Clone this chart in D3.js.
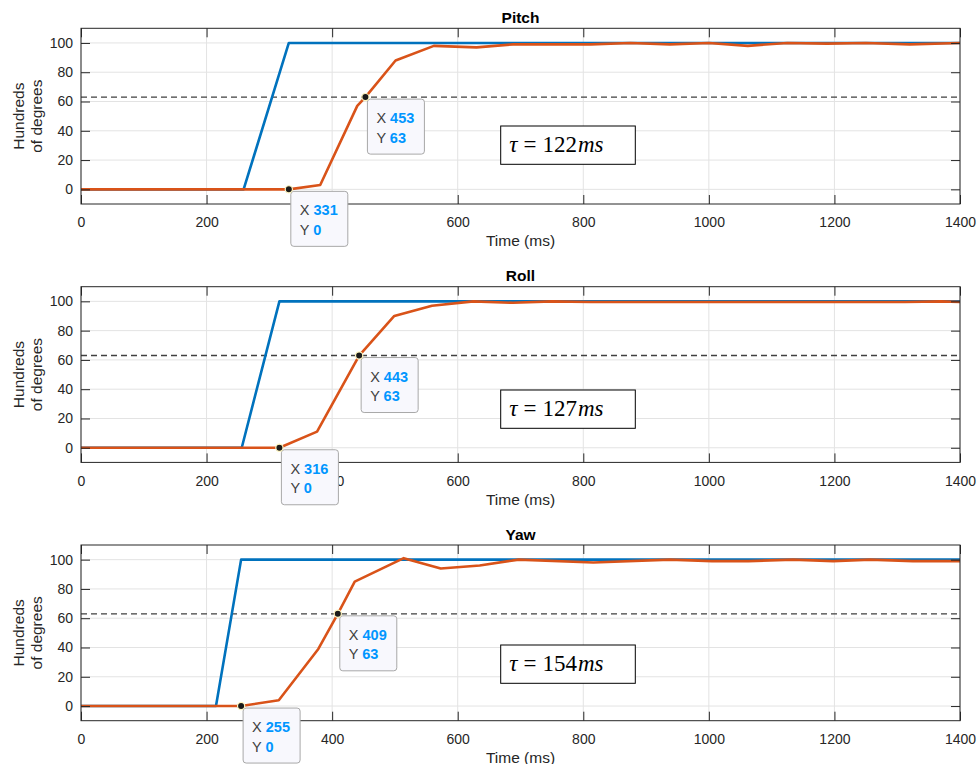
<!DOCTYPE html>
<html>
<head>
<meta charset="utf-8">
<script src="https://cdn.jsdelivr.net/npm/d3@7"></script>
<style>
  body { margin: 0; background: #fff; }
  text { font-family: "Liberation Sans", Arial, sans-serif; }
</style>
</head>
<body>
<div id="chart"></div>
<script>
// chart values
const panelTitles = ["Pitch", "Roll", "Yaw"];
const timeTicks = [0, 200, 400, 600, 800, 1000, 1200, 1400];
const valueTicks = [0, 20, 40, 60, 80, 100];
const thresholdValue = 63;
const tauValues = [122, 127, 154];

const pitchReference = [[0, 0], [259, 0], [331, 100], [1400, 100]];
const pitchResponse = [[0, 0], [331, 0], [381, 3], [440, 57], [453, 63], [501, 88], [562, 98], [630, 97],
  [688, 99], [750, 99], [812, 99], [875, 100], [938, 99], [1000, 100], [1062, 98], [1125, 100],
  [1188, 99.5], [1250, 100], [1320, 99], [1400, 100]];

const rollReference = [[0, 0], [256, 0], [316, 100], [1400, 100]];
const rollResponse = [[0, 0], [316, 0], [376, 11], [443, 63], [499, 90], [559, 97], [625, 100],
  [688, 99], [750, 100], [812, 99.5], [875, 99.5], [1000, 99.5], [1125, 99.5], [1250, 99.5],
  [1312, 99.5], [1370, 100], [1400, 99.5]];

const yawReference = [[0, 0], [215, 0], [255, 100], [1400, 100]];
const yawResponse = [[0, 0], [255, 0], [315, 4], [378, 39], [409, 63], [436, 85], [514, 101],
  [573, 94], [635, 96], [697, 100], [816, 98], [938, 100], [1005, 99], [1063, 99], [1134, 100],
  [1198, 99], [1257, 100], [1325, 99], [1400, 99]];

const referenceSeries = [pitchReference, rollReference, yawReference];
const responseSeries = [pitchResponse, rollResponse, yawResponse];
const datatipPoints = [
  [[331, 0], [453, 63]],
  [[316, 0], [443, 63]],
  [[255, 0], [409, 63]]
];

// layout
const FIG_WIDTH = 977, FIG_HEIGHT = 764;
const AXES_LEFT = 81, AXES_RIGHT = 960;
const AXES_TOPS = [28.3, 286.7, 545];
const AXES_HEIGHT = 175.7;
const TAU_BOX_TOPS = [97.7, 103.3, 100];
const TAU_BOX_LEFT = 419.7, TAU_BOX_WIDTH = 134.6, TAU_BOX_HEIGHT = 38.3;

const REFERENCE_COLOR = "#0072BD";
const RESPONSE_COLOR = "#D95319";
const AXIS_COLOR = "#262626";
const GRID_COLOR = "#e3e3e3";
const TIP_VALUE_COLOR = "#0096ff";

let svg = null;
let x = null;
let width = AXES_RIGHT - AXES_LEFT;

renderFigure();

function renderFigure() {
  svg = d3.select("#chart")
    .append("svg")
    .attr("width", FIG_WIDTH)
    .attr("height", FIG_HEIGHT);

  x = d3.scaleLinear().domain([0, 1400]).range([0, width]);

  panelTitles.forEach(function(title, i) {
    appendPanel(i);
  });
}

/**
 * @method appendPanel
 * @description Draws one subplot: grid, threshold, lines, box, ticks, labels, datatips and tau box
 */
function appendPanel(i) {
  let y = d3.scaleLinear().domain([-10, 110]).range([AXES_HEIGHT, 0]);
  let g = svg.append("g")
    .attr("transform", `translate(${AXES_LEFT}, ${AXES_TOPS[i]})`);

  g.append("defs").append("clipPath")
    .attr("id", "clip" + i)
    .append("rect")
    .attr("width", width)
    .attr("height", AXES_HEIGHT);

  // grid
  g.append("g").selectAll("line")
    .data(timeTicks)
    .enter().append("line")
    .attr("x1", d => x(d)).attr("x2", d => x(d))
    .attr("y1", 0).attr("y2", AXES_HEIGHT)
    .attr("stroke", GRID_COLOR);
  g.append("g").selectAll("line")
    .data(valueTicks)
    .enter().append("line")
    .attr("x1", 0).attr("x2", width)
    .attr("y1", d => y(d)).attr("y2", d => y(d))
    .attr("stroke", GRID_COLOR);

  // 63% threshold
  g.append("line")
    .attr("x1", 0).attr("x2", width)
    .attr("y1", y(thresholdValue)).attr("y2", y(thresholdValue))
    .attr("stroke", "#404040")
    .attr("stroke-width", 1.3)
    .attr("stroke-dasharray", "6,4");

  let line = d3.line()
    .x(d => x(d[0]))
    .y(d => y(d[1]));

  let plot = g.append("g").attr("clip-path", `url(#clip${i})`);
  plot.append("path")
    .datum(referenceSeries[i])
    .attr("fill", "none")
    .attr("stroke", REFERENCE_COLOR)
    .attr("stroke-width", 2.6)
    .attr("stroke-linejoin", "round")
    .attr("d", line);
  plot.append("path")
    .datum(responseSeries[i])
    .attr("fill", "none")
    .attr("stroke", RESPONSE_COLOR)
    .attr("stroke-width", 2.6)
    .attr("stroke-linejoin", "round")
    .attr("d", line);

  appendAxes(g, y);
  appendLabels(g, i);
  appendDatatips(g, y, i);
  appendTauBox(g, i);
}

/**
 * @method appendAxes
 * @description Box around the axes with inward ticks on all four sides
 */
function appendAxes(g, y) {
  let bottom = g.append("g")
    .attr("transform", `translate(0, ${AXES_HEIGHT})`)
    .call(d3.axisBottom(x).tickValues(timeTicks).tickFormat(d3.format("d"))
      .tickSizeInner(-9).tickSizeOuter(0).tickPadding(13.5));
  let left = g.append("g")
    .call(d3.axisLeft(y).tickValues(valueTicks).tickFormat(d3.format("d"))
      .tickSizeInner(-9).tickSizeOuter(0).tickPadding(8));
  g.append("g")
    .call(d3.axisTop(x).tickValues(timeTicks).tickSizeInner(-9).tickSizeOuter(0).tickFormat(""));
  g.append("g")
    .attr("transform", `translate(${width}, 0)`)
    .call(d3.axisRight(y).tickValues(valueTicks).tickSizeInner(-9).tickSizeOuter(0).tickFormat(""));

  g.selectAll(".domain").remove();
  g.selectAll(".tick line").attr("stroke", AXIS_COLOR);
  [bottom, left].forEach(function(a) {
    a.attr("font-size", null).attr("font-family", null);
    a.selectAll("text")
      .attr("fill", AXIS_COLOR)
      .style("font-size", "14px")
      .style("font-family", "'Liberation Sans', Arial, sans-serif");
  });

  g.append("rect")
    .attr("width", width)
    .attr("height", AXES_HEIGHT)
    .attr("fill", "none")
    .attr("stroke", AXIS_COLOR)
    .attr("stroke-width", 1);
}

/**
 * @method appendLabels
 * @description Title, x label and two-line y label
 */
function appendLabels(g, i) {
  g.append("text")
    .attr("x", width / 2)
    .attr("y", -5.5)
    .attr("text-anchor", "middle")
    .style("font-size", "15.5px")
    .style("font-weight", "bold")
    .attr("fill", "#000")
    .text(panelTitles[i]);

  g.append("text")
    .attr("x", width / 2)
    .attr("y", AXES_HEIGHT + 42.5)
    .attr("text-anchor", "middle")
    .style("font-size", "15.5px")
    .attr("fill", AXIS_COLOR)
    .text("Time (ms)");

  let yLabel = g.append("text")
    .attr("transform", `translate(${24 - AXES_LEFT}, ${AXES_HEIGHT / 2}) rotate(-90)`)
    .attr("text-anchor", "middle")
    .style("font-size", "15.5px")
    .attr("fill", AXIS_COLOR);
  yLabel.append("tspan").attr("x", 0).attr("y", 0).text("Hundreds");
  yLabel.append("tspan").attr("x", 0).attr("y", 18).text("of degrees");
}

/**
 * @method appendDatatips
 * @description MATLAB-like datatips with marker and value box
 */
function appendDatatips(g, y, i) {
  datatipPoints[i].forEach(function(p) {
    let px = x(p[0]), py = y(p[1]);
    let tip = g.append("g").attr("transform", `translate(${px + 2}, ${py + 2})`);
    let box = tip.append("rect")
      .attr("width", 57)
      .attr("height", 55)
      .attr("rx", 3)
      .attr("fill", "#f8f8fd")
      .attr("stroke", "#a8a8a8");

    let rows = [["X", p[0]], ["Y", p[1]]];
    let maxW = 0;
    rows.forEach(function(r, k) {
      let t = tip.append("text")
        .attr("x", 9)
        .attr("y", 24 + k * 19.5)
        .style("font-size", "14.5px");
      t.append("tspan").attr("fill", "#404040").text(r[0] + " ");
      t.append("tspan").attr("fill", TIP_VALUE_COLOR).style("font-weight", "bold").text(r[1]);
      maxW = Math.max(maxW, t.node().getComputedTextLength());
    });
    box.attr("width", Math.max(57, maxW + 18));

    g.append("circle")
      .attr("cx", px)
      .attr("cy", py)
      .attr("r", 3.6)
      .attr("fill", "#1a1a1a")
      .attr("stroke", "#fff6c0")
      .attr("stroke-width", 1.2);
  });
}

/**
 * @method appendTauBox
 * @description Boxed time-constant annotation
 */
function appendTauBox(g, i) {
  let box = g.append("g")
    .attr("transform", `translate(${TAU_BOX_LEFT}, ${TAU_BOX_TOPS[i]})`);
  box.append("rect")
    .attr("width", TAU_BOX_WIDTH)
    .attr("height", TAU_BOX_HEIGHT)
    .attr("fill", "#fff")
    .attr("stroke", "#000")
    .attr("stroke-width", 1);
  let t = box.append("text")
    .attr("x", 8.6)
    .attr("y", 26)
    .attr("fill", "#000")
    .style("font-family", "'Liberation Serif', 'DejaVu Serif', serif")
    .style("font-size", "23px");
  t.append("tspan").style("font-style", "italic").text("τ");
  t.append("tspan").attr("dx", 6).text("=");
  t.append("tspan").attr("dx", 6).text(tauValues[i]);
  t.append("tspan").style("font-style", "italic").attr("dx", 1).text("ms");
}
</script>
</body>
</html>
